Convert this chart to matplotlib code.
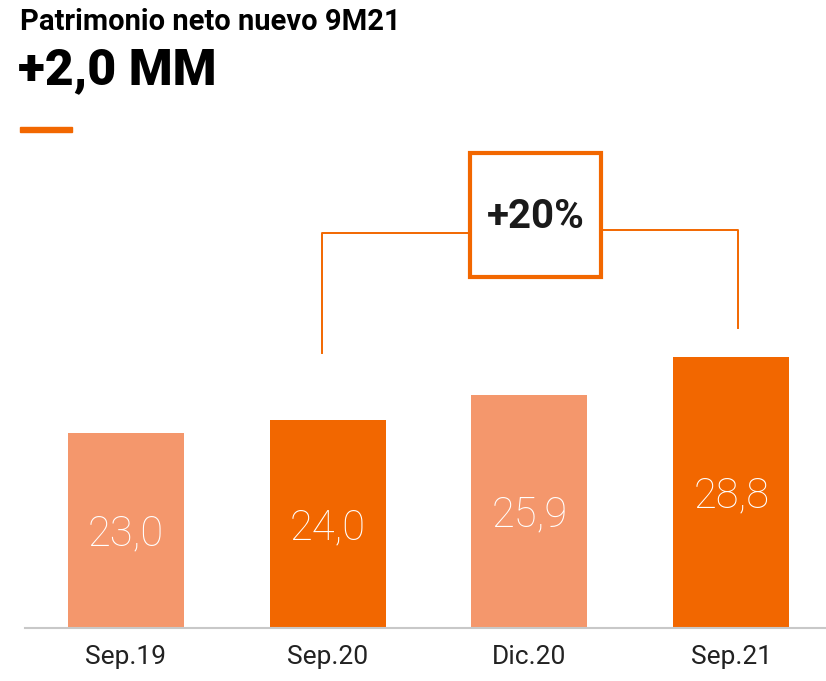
import matplotlib.pyplot as plt
from matplotlib.patches import Rectangle

# data
periods = ["Sep.19", "Sep.20", "Dic.20", "Sep.21"]
values = [23.0, 24.0, 25.9, 28.8]
value_labels = ["23,0", "24,0", "25,9", "28,8"]
growth_label = "+20%"
title = "Patrimonio neto nuevo 9M21"
headline = "+2,0 MM"

LIGHT = "#F4976C"
DARK = "#F26700"
bar_colors = [LIGHT, DARK, LIGHT, DARK]

W, H = 826, 681
fig = plt.figure(figsize=(W / 100, H / 100), dpi=100)
plt.rcParams["font.family"] = ["Roboto", "DejaVu Sans"]

# axes placed in pixel terms: baseline at y=628, top at y=140
ax = fig.add_axes([25 / W, (H - 628) / H, (826 - 25) / W, (628 - 140) / H])
ax.set_xlim(-0.5, 3.47)
ax.set_ylim(8.1, 8.1 + (628 - 140) / 13.1)

x = list(range(len(periods)))
ax.bar(x, values, width=0.575, color=bar_colors, zorder=2)

for xi, v, lab in zip(x, values, value_labels):
    ax.text(xi, (8.1 + v) / 2 - 0.3, lab, ha="center", va="center",
            color="white", fontsize=30, fontweight="light", zorder=3)

for s in ["top", "right", "left"]:
    ax.spines[s].set_visible(False)
ax.spines["bottom"].set_color("#c8c8c8")
ax.spines["bottom"].set_linewidth(1.5)
ax.set_yticks([])
ax.set_xticks(x)
ax.set_xticklabels(periods, fontsize=19, color="#222222")
ax.tick_params(axis="x", length=0, pad=12)

# growth bracket between Sep.20 and Sep.21
y_top = values[3] + 9.7
ax.plot([x[1] - 0.03, x[1] - 0.03, 1.705], [values[1] + 5.1, y_top - 0.25, y_top - 0.25],
        color=DARK, lw=1.4, zorder=1, clip_on=False)
ax.plot([2.355, x[3] + 0.035, x[3] + 0.035], [y_top, y_top, values[3] + 2.2],
        color=DARK, lw=1.4, zorder=1, clip_on=False)
box = Rectangle((1.705, 34.9), 0.65, 9.45, facecolor="white", edgecolor=DARK,
                lw=3, zorder=3, clip_on=False)
ax.add_patch(box)
ax.text(2.03, 39.5, growth_label, ha="center", va="center", fontsize=29,
        fontweight="bold", color="#1a1a1a", zorder=4)

# header
fig.text(20 / W, 1 - 22 / H, title, ha="left", va="center", fontsize=21,
         fontweight="bold", color="black")
fig.text(18 / W, 1 - 71 / H, headline, ha="left", va="center", fontsize=36,
         fontweight="heavy", color="black")
fig.add_artist(Rectangle((20 / W, 1 - 132 / H), 52 / W, 5 / H,
                         transform=fig.transFigure, color=DARK))

fig.savefig("out.png", dpi=100)
